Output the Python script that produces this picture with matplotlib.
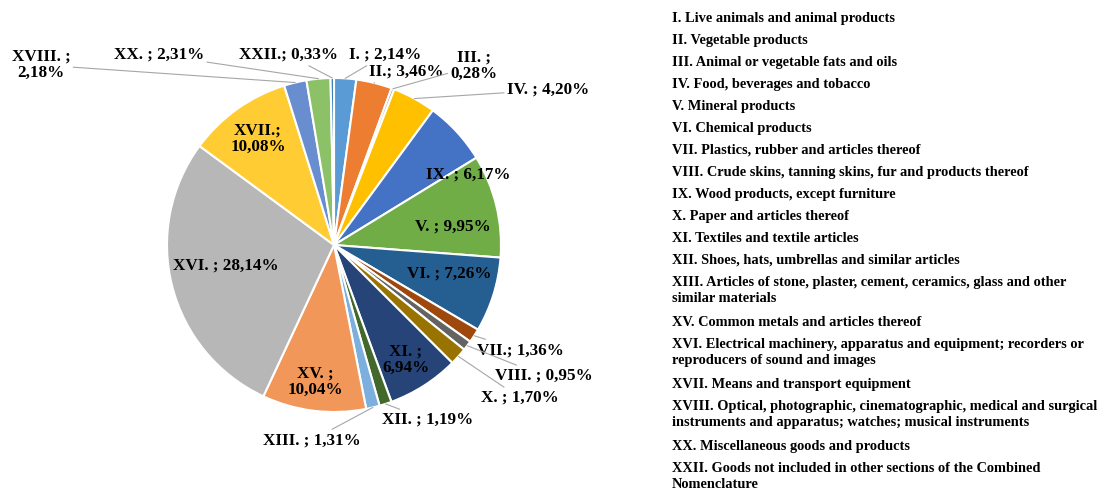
import numpy as np
import matplotlib
matplotlib.use("Agg")
from matplotlib import pyplot as plt

plt.rcParams['font.family'] = ['Liberation Serif', 'DejaVu Serif']
plt.rcParams['font.weight'] = 'bold'

# pie order (clockwise from top)
sections = ["I.", "II.", "III.", "IV.", "IX.", "V.", "VI.", "VII.", "VIII.", "X.",
            "XI.", "XII.", "XIII.", "XV.", "XVI.", "XVII.", "XVIII.", "XX.", "XXII."]
shares = [2.14, 3.46, 0.28, 4.20, 6.17, 9.95, 7.26, 1.36, 0.95, 1.70,
          6.94, 1.19, 1.31, 10.04, 28.14, 10.08, 2.18, 2.31, 0.33]
colors = ["#5B9BD5", "#ED7D31", "#A5A5A5", "#FFC000", "#4472C4", "#70AD47",
          "#255E91", "#9E480E", "#636363", "#997300", "#264478", "#43682B",
          "#7CAFDD", "#F1975A", "#B7B7B7", "#FFCD33", "#698ED0", "#8CC168", "#327DC2"]

# label text as shown on the chart
label_text = ["I. ; 2,14%", "II.; 3,46%", "III. ;\n0,28%", "IV. ; 4,20%", "IX. ; 6,17%",
              "V. ; 9,95%", "VI. ; 7,26%", "VII.; 1,36%", "VIII. ; 0,95%", "X. ; 1,70%",
              "XI. ;\n6,94%", "XII. ; 1,19%", "XIII. ; 1,31%", "XV. ;\n10,04%",
              "XVI. ; 28,14%", "XVII.;\n10,08%", "XVIII. ;\n2,18%", "XX. ; 2,31%",
              "XXII.; 0,33%"]
# label positions in pie radii
label_pos = [(0.305, 1.138), (0.431, 1.036), (0.838, 1.072), (1.281, 0.928), (0.802, 0.419),
             (0.713, 0.108), (0.689, -0.168), (1.114, -0.629), (1.257, -0.784), (1.114, -0.916),
             (0.431, -0.689), (0.563, -1.048), (-0.132, -1.168), (-0.114, -0.820),
             (-0.647, -0.120), (-0.455, 0.635), (-1.754, 1.078), (-1.048, 1.138), (-0.275, 1.138)]
inside = ["IX.", "V.", "VI.", "XI.", "XV.", "XVI.", "XVII."]

legend_lines = [
    "I. Live animals and animal products",
    "II. Vegetable products",
    "III. Animal or vegetable fats and oils",
    "IV. Food, beverages and tobacco",
    "V. Mineral products",
    "VI. Chemical products",
    "VII. Plastics, rubber and articles thereof",
    "VIII. Crude skins, tanning skins, fur and products thereof",
    "IX. Wood products, except furniture",
    "X. Paper and articles thereof",
    "XI. Textiles and textile articles",
    "XII. Shoes, hats, umbrellas and similar articles",
    "XIII. Articles of stone, plaster, cement, ceramics, glass and other\nsimilar materials",
    "XV. Common metals and articles thereof",
    "XVI. Electrical machinery, apparatus and equipment; recorders or\nreproducers of sound and images",
    "XVII. Means and transport equipment",
    "XVIII. Optical, photographic, cinematographic, medical and surgical\ninstruments and apparatus; watches; musical instruments",
    "XX. Miscellaneous goods and products",
    "XXII. Goods not included in other sections of the Combined\nNomenclature",
]

W, H = 1108, 494
fig = plt.figure(figsize=(W / 100, H / 100), dpi=100)
ax = fig.add_axes([0, 0, 668 / W, 1])
wedges, _ = ax.pie(shares, colors=colors, startangle=90, counterclock=False,
                   wedgeprops=dict(edgecolor="white", linewidth=1.5))
ax.set_xlim(-2.0, 2.0)
ax.set_ylim(-1.491, 1.467)
ax.set_aspect('equal')

fs = 12.3
for w, name, txt, pos in zip(wedges, sections, label_text, label_pos):
    if name in inside:
        ax.text(pos[0], pos[1], txt, ha="center", va="center", fontsize=fs,
                fontweight="bold", linespacing=1.05)
    else:
        ang = np.deg2rad((w.theta1 + w.theta2) / 2)
        edge = (np.cos(ang), np.sin(ang))
        ax.annotate(txt, xy=edge, xytext=pos, ha="center", va="center",
                    fontsize=fs, fontweight="bold", linespacing=1.05,
                    arrowprops=dict(arrowstyle="-", color="#A6A6A6", lw=0.8,
                                    shrinkA=0, shrinkB=0))

# description list on the right
y = 17
for line in legend_lines:
    n = line.count("\n") + 1
    fig.text(672 / W, 1 - (y - 5) / H, line, ha="left", va="top", fontsize=10.4,
             fontweight="bold", linespacing=1.25)
    y += 22 if n == 1 else 40

fig.savefig("out.png", dpi=100)
